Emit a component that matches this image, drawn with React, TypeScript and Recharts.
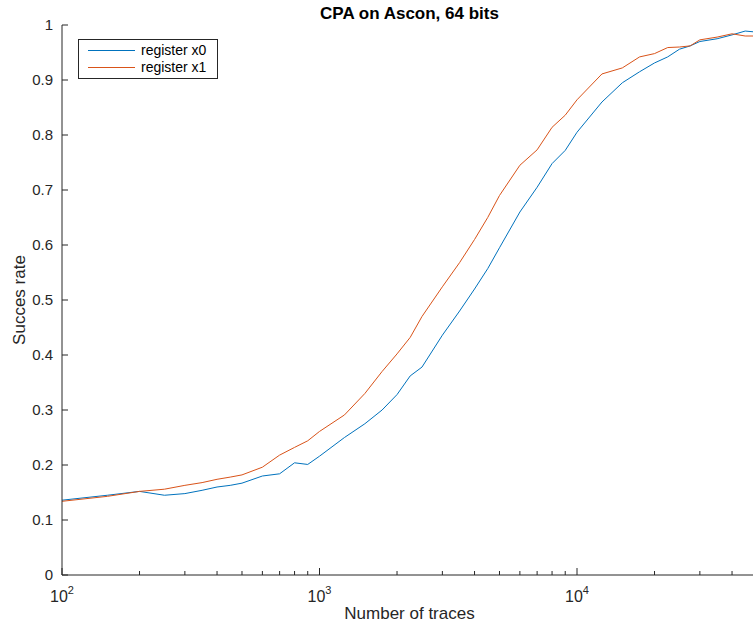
import React from 'react';
import { LineChart, Line, XAxis, YAxis, Legend } from 'recharts';

// Number of traces used for each attack run
const traces = [
  100, 150, 200, 250, 300, 350, 400, 450, 500, 600, 700, 800, 900, 1000,
  1250, 1500, 1750, 2000, 2250, 2500, 3000, 3500, 4000, 4500, 5000, 6000,
  7000, 8000, 9000, 10000, 12500, 15000, 17500, 20000, 22500, 25000, 27500,
  30000, 35000, 40000, 45000, 50000,
];

// Success rate when targeting register x0
const registerX0 = [
  0.136, 0.145, 0.152, 0.145, 0.148, 0.154, 0.16, 0.163, 0.167, 0.18, 0.184,
  0.204, 0.201, 0.216, 0.25, 0.275, 0.3, 0.328, 0.362, 0.378, 0.436, 0.48,
  0.52, 0.557, 0.595, 0.66, 0.705, 0.748, 0.772, 0.805, 0.86, 0.895, 0.915,
  0.931, 0.942, 0.956, 0.962, 0.97, 0.975, 0.982, 0.989, 0.987,
];

// Success rate when targeting register x1
const registerX1 = [
  0.134, 0.143, 0.152, 0.156, 0.163, 0.168, 0.174, 0.178, 0.182, 0.196, 0.218,
  0.232, 0.244, 0.261, 0.291, 0.33, 0.37, 0.402, 0.432, 0.47, 0.524, 0.568,
  0.61, 0.65, 0.69, 0.745, 0.773, 0.814, 0.836, 0.864, 0.911, 0.922, 0.942,
  0.948, 0.959, 0.96, 0.962, 0.973, 0.978, 0.984, 0.98, 0.98,
];

const seriesNames = ['register x0', 'register x1'];
const seriesColors = ['#0072BD', '#D95319'];

// Log-axis ticks: decades get labels, the rest are minor marks
const xTicks = [
  100, 200, 300, 400, 500, 600, 700, 800, 900,
  1000, 2000, 3000, 4000, 5000, 6000, 7000, 8000, 9000,
  10000, 20000, 30000, 40000, 50000,
];
const xMajorTicks = [100, 1000, 10000];
const yTicks = [0, 0.1, 0.2, 0.3, 0.4, 0.5, 0.6, 0.7, 0.8, 0.9, 1];

const title = 'CPA on Ascon, 64 bits';
const xLabel = 'Number of traces';
const yLabel = 'Succes rate';

const data = traces.map((n, i) => ({ n, x0: registerX0[i], x1: registerX1[i] }));

const FONT = '"Liberation Sans", Arial, Helvetica, sans-serif';
const INK = '#262626';
const MAJOR_LEN = 7;
const MINOR_LEN = 4;
const Y_TICK_LEN = 6;
const TOP_MARGIN = 25;

const fmtY = (v: number) => String(Math.round(v * 10) / 10);

const BottomTick = (props: any) => {
  const { x, y, payload } = props;
  const v = payload.value;
  const major = xMajorTicks.includes(v);
  return (
    <g>
      <line x1={x} x2={x} y1={y} y2={y - (major ? MAJOR_LEN : MINOR_LEN)} stroke={INK} strokeWidth={1} />
      {major && (
        <text x={x} y={y + 27} textAnchor="middle" fontSize={16} fill={INK} fontFamily={FONT}>
          10
          <tspan dy={-8} fontSize={11}>{Math.round(Math.log10(v))}</tspan>
        </text>
      )}
    </g>
  );
};

const TopTick = (props: any) => {
  const { x, y, payload } = props;
  const major = xMajorTicks.includes(payload.value);
  return <line x1={x} x2={x} y1={y} y2={y + (major ? MAJOR_LEN : MINOR_LEN)} stroke={INK} strokeWidth={1} />;
};

const LeftTick = (props: any) => {
  const { x, y, payload } = props;
  return (
    <g>
      <line x1={x} x2={x + Y_TICK_LEN} y1={y} y2={y} stroke={INK} strokeWidth={1} />
      <text x={x - 9} y={y + 5} textAnchor="end" fontSize={15} fill={INK} fontFamily={FONT}>
        {fmtY(payload.value)}
      </text>
    </g>
  );
};

const RightTick = (props: any) => {
  const { x, y } = props;
  return <line x1={x} x2={x - Y_TICK_LEN} y1={y} y2={y} stroke={INK} strokeWidth={1} />;
};

// Axis title below the plot plus the chart title above it, both centred on the plot width
const XTitles = (props: any) => {
  const { viewBox } = props;
  const cx = viewBox.x + viewBox.width / 2;
  return (
    <g>
      <text x={cx} y={viewBox.y + 44} textAnchor="middle" fontSize={17} fill={INK} fontFamily={FONT}>
        {xLabel}
      </text>
      <text x={cx} y={TOP_MARGIN - 6} textAnchor="middle" fontSize={17} fontWeight="bold" fill="#000" fontFamily={FONT}>
        {title}
      </text>
    </g>
  );
};

const YTitle = (props: any) => {
  const { viewBox } = props;
  const cx = viewBox.x + 17;
  const cy = viewBox.y + viewBox.height / 2;
  return (
    <text x={cx} y={cy} transform={`rotate(-90, ${cx}, ${cy})`} textAnchor="middle" fontSize={17} fill={INK} fontFamily={FONT}>
      {yLabel}
    </text>
  );
};

const LegendBox = (props: any) => {
  const items = props.payload || [];
  return (
    <div
      style={{
        border: `1px solid ${INK}`,
        background: '#fff',
        padding: '2px 8px 2px 9px',
        fontFamily: FONT,
        fontSize: 14,
        color: '#000',
        boxSizing: 'border-box',
        width: 140,
        whiteSpace: 'nowrap',
      }}
    >
      {items.map((it: any) => (
        <div key={it.value} style={{ display: 'flex', alignItems: 'center', height: 17 }}>
          <svg width={47} height={17} style={{ display: 'block', marginRight: 6, flex: 'none' }}>
            <line x1={0} x2={47} y1={8.5} y2={8.5} stroke={it.color} strokeWidth={1} />
          </svg>
          <span style={{ lineHeight: '17px' }}>{it.value}</span>
        </div>
      ))}
    </div>
  );
};

export default function App() {
  return (
    <div style={{ position: 'absolute', left: 0, top: 0, width: 753, height: 626, overflow: 'hidden', background: '#fff' }}>
      <LineChart width={760} height={626} data={data} margin={{ top: TOP_MARGIN, right: 3, bottom: 0, left: 8 }}>
        <XAxis
          dataKey="n"
          type="number"
          scale="log"
          domain={[100, 50000]}
          ticks={xTicks}
          interval={0}
          allowDataOverflow
          height={51}
          tickSize={0}
          tickMargin={0}
          tickLine={false}
          axisLine={{ stroke: INK, strokeWidth: 1 }}
          tick={<BottomTick />}
          label={<XTitles />}
        />
        <XAxis
          xAxisId="top"
          dataKey="n"
          orientation="top"
          type="number"
          scale="log"
          domain={[100, 50000]}
          ticks={xTicks}
          interval={0}
          allowDataOverflow
          height={0}
          tickSize={0}
          tickMargin={0}
          tickLine={false}
          axisLine={{ stroke: INK, strokeWidth: 1 }}
          tick={<TopTick />}
        />
        <YAxis
          type="number"
          domain={[0, 1]}
          ticks={yTicks}
          interval={0}
          width={54}
          tickSize={0}
          tickMargin={0}
          tickLine={false}
          axisLine={{ stroke: INK, strokeWidth: 1 }}
          tick={<LeftTick />}
          label={<YTitle />}
        />
        <YAxis
          yAxisId="right"
          orientation="right"
          type="number"
          domain={[0, 1]}
          ticks={yTicks}
          interval={0}
          width={0}
          tickSize={0}
          tickMargin={0}
          tickLine={false}
          axisLine={{ stroke: INK, strokeWidth: 1 }}
          tick={<RightTick />}
        />
        <Legend
          layout="horizontal"
          verticalAlign="middle"
          align="center"
          content={<LegendBox />}
          wrapperStyle={{ left: 78, top: 39, width: 140 }}
        />
        <Line dataKey="x0" name={seriesNames[0]} stroke={seriesColors[0]} strokeWidth={1} dot={false} isAnimationActive={false} />
        <Line dataKey="x1" name={seriesNames[1]} stroke={seriesColors[1]} strokeWidth={1} dot={false} isAnimationActive={false} />
      </LineChart>
    </div>
  );
}
